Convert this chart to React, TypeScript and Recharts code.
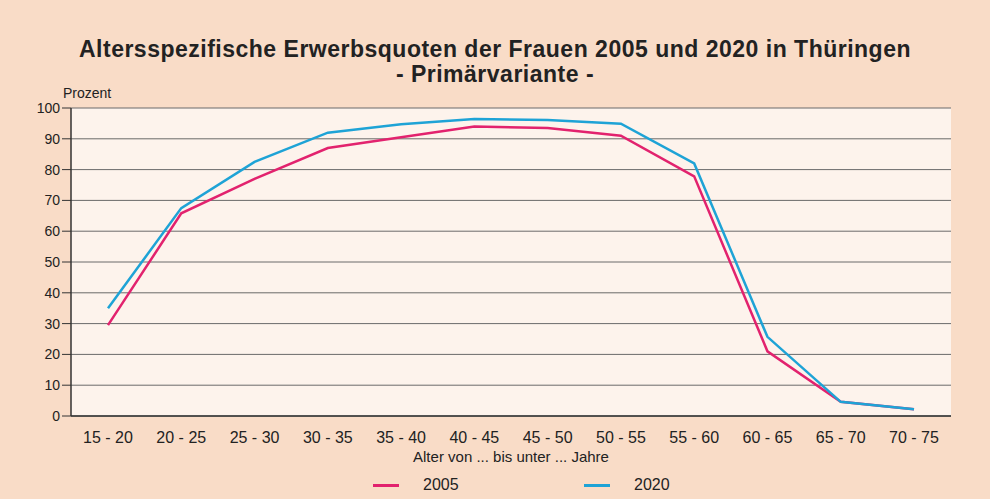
import { LineChart, Line, XAxis, YAxis, CartesianGrid, Legend } from "recharts";

const ageGroups = ["15 - 20", "20 - 25", "25 - 30", "30 - 35", "35 - 40", "40 - 45", "45 - 50", "50 - 55", "55 - 60", "60 - 65", "65 - 70", "70 - 75"];
const quote2005 = [29.5, 65.8, 77, 87, 90.5, 94, 93.5, 91, 77.8, 21, 4.6, 2.2];
const quote2020 = [35, 67.5, 82.5, 92, 94.7, 96.4, 96.1, 94.9, 82, 25.7, 4.6, 2.2];
const yTicks = [0, 10, 20, 30, 40, 50, 60, 70, 80, 90, 100];

const data = ageGroups.map((label, i) => ({ label, y2005: quote2005[i], y2020: quote2020[i] }));

const FONT = '"Liberation Sans", Arial, sans-serif';
const PINK = "#e2226e";
const BLUE = "#1ea3d6";

function LegendBox() {
  const item = (color: string, text: string, left: number) => (
    <div style={{ position: "absolute", left, top: 8, display: "flex", alignItems: "center" }}>
      <span style={{ display: "inline-block", width: 26, height: 3, background: color, marginRight: 24 }} />
      <span style={{ fontSize: 16, color: "#222" }}>{text}</span>
    </div>
  );
  return (
    <div style={{ position: "relative", height: 33, fontFamily: FONT }}>
      {item(PINK, "2005", 362)}
      {item(BLUE, "2020", 573)}
    </div>
  );
}

export default function App() {
  return (
    <div style={{ position: "absolute", left: 0, top: 0, width: 990, height: 499, background: "#f9dcc7", fontFamily: FONT }}>
      <div style={{ position: "absolute", top: 37, width: 990, textAlign: "center", fontSize: 23, letterSpacing: 0.5, fontWeight: "bold", color: "#222", lineHeight: "25px" }}>
        Altersspezifische Erwerbsquoten der Frauen 2005 und 2020 in Thüringen
        <br />- Primärvariante -
      </div>
      <div style={{ position: "absolute", left: 63, top: 85, fontSize: 14, color: "#222" }}>Prozent</div>
      <LineChart width={990} height={499} data={data} margin={{ top: 108, right: 39, bottom: 0, left: 11 }}>
        <CartesianGrid vertical={false} stroke="#6a6a6a" fill="#fdf3ec" strokeWidth={1} />
        <XAxis dataKey="label" padding={{ left: 37, right: 37 }} tickLine={false} axisLine={{ stroke: "#333", strokeWidth: 1.5 }}
          tick={{ fill: "#222", fontSize: 16 }} tickMargin={10} height={52}
          label={{ value: "Alter von ... bis unter ... Jahre", position: "insideBottom", offset: 6, fill: "#222", fontSize: 15 }} />
        <YAxis domain={[0, 100]} ticks={yTicks} width={60} tickSize={9} tickLine={{ stroke: "#333" }}
          axisLine={{ stroke: "#333", strokeWidth: 1.5 }} tick={{ fill: "#222", fontSize: 14 }} interval={0} />
        <YAxis yAxisId="r" orientation="right" width={0} tick={false} tickLine={false} axisLine={{ stroke: "#333", strokeWidth: 1.5 }} />
        <Legend verticalAlign="bottom" height={31} content={() => <LegendBox />} />
        <Line dataKey="y2005" name="2005" stroke={PINK} strokeWidth={2.5} dot={false} isAnimationActive={false} />
        <Line dataKey="y2020" name="2020" stroke={BLUE} strokeWidth={2.5} dot={false} isAnimationActive={false} />
      </LineChart>
    </div>
  );
}
